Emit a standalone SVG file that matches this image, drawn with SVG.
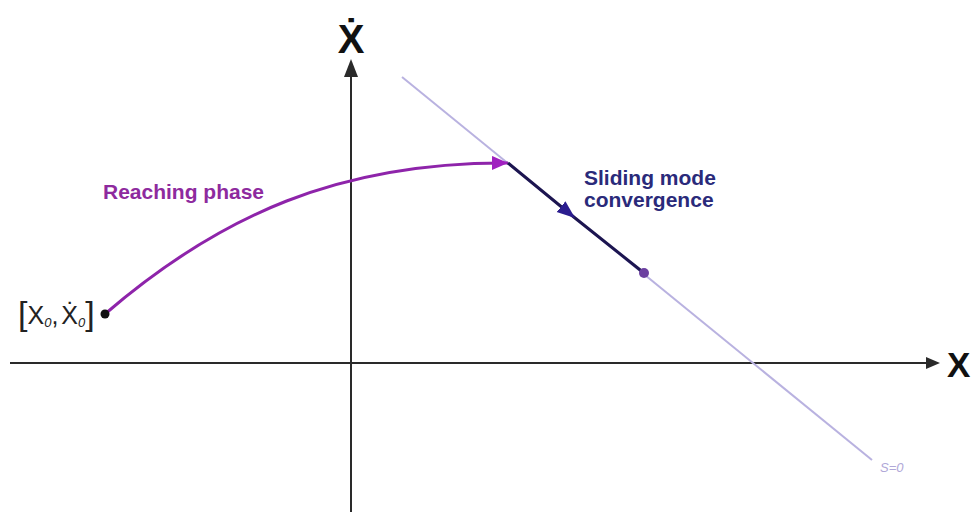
<svg xmlns="http://www.w3.org/2000/svg" width="972" height="512" viewBox="0 0 972 512">
<style>
.axis{stroke:#2a2a2a;stroke-width:2;fill:none}
.lbl{font-family:"Liberation Sans","DejaVu Sans",sans-serif}
.big{font-size:40px;font-weight:bold;fill:#111}
</style>
<defs>
<marker id="ahP" markerUnits="userSpaceOnUse" markerWidth="20" markerHeight="16" refX="16" refY="7" orient="auto"><path d="M0,0 L16,7 L0,14 Z" fill="#a020c0"/></marker>
<marker id="ahN" markerUnits="userSpaceOnUse" markerWidth="22" markerHeight="16" refX="18" refY="7" orient="auto"><path d="M0,0 L18,7 L0,14 Z" fill="#2b1d8f"/></marker>
</defs>
<rect width="972" height="512" fill="#ffffff"/>
<g id="axes">
<line class="axis" x1="10" y1="363" x2="928" y2="363"/>
<path d="M940,363 L926,357 L926,369 Z" fill="#2a2a2a"/>
<line class="axis" x1="351" y1="512" x2="351" y2="75"/>
<path d="M351,59 L344,77 L358,77 Z" fill="#2a2a2a"/>
<text class="lbl big" x="351" y="53" text-anchor="middle">Ẋ</text>
<text class="lbl big" x="947" y="377" style="font-size:35px">X</text>
</g>
<g id="surface">
<line x1="402" y1="77" x2="872" y2="460" stroke="#b9b2e0" stroke-width="2"/>
<text class="lbl" x="880" y="472" font-size="13" font-style="italic" fill="#b0a8d8">S=0</text>
</g>
<g id="connectors">
<path d="M105,314 C220,215 340,162 508,163" fill="none" stroke="#8e24aa" stroke-width="3" marker-end="url(#ahP)"/>
<polyline points="508,163 575,218 644,273" fill="none" stroke="#1c1550" stroke-width="3" marker-mid="url(#ahN)"/>
</g>
<g id="initial">
<circle cx="105" cy="314" r="4.5" fill="#111"/>
<text class="lbl" x="18" y="325" font-size="34" fill="#222">[<tspan font-size="25" dy="-1">X</tspan><tspan font-size="13" font-style="italic" dy="3">0</tspan><tspan font-size="25" dy="-3">,</tspan><tspan font-size="25" dx="3">Ẋ</tspan><tspan font-size="13" font-style="italic" dy="3">0</tspan><tspan font-size="34" dy="-2">]</tspan></text>
</g>
<g id="endpoint">
<circle cx="644" cy="273" r="5" fill="#6b3fa0"/>
</g>
<g id="reaching-label">
<text class="lbl" x="103" y="199" font-size="21" font-weight="bold" fill="#8e2a9e">Reaching phase</text>
</g>
<g id="sliding-label">
<text class="lbl" x="584" y="185" font-size="21" font-weight="bold" fill="#2a2a7a">Sliding mode</text>
<text class="lbl" x="584" y="207" font-size="21" font-weight="bold" fill="#2a2a7a">convergence</text>
</g>
</svg>
